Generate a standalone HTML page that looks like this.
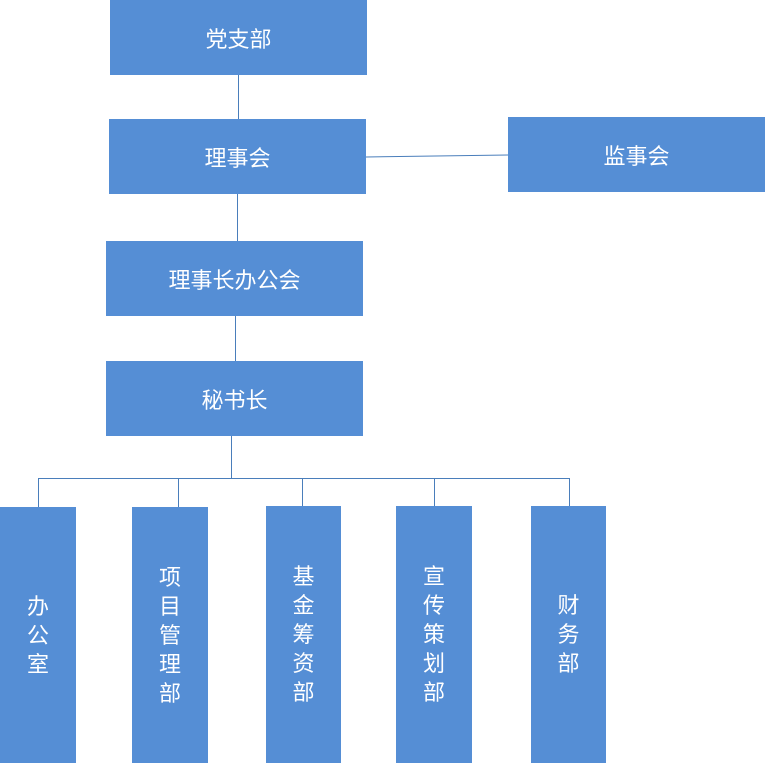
<!DOCTYPE html>
<html><head><meta charset="utf-8"><style>
body{margin:0;width:765px;height:763px;background:#fff;position:relative;overflow:hidden;font-family:"Liberation Sans","Noto Sans CJK SC",sans-serif}
.b{position:absolute;background:#558ed5;color:#fff;font-size:22px;display:flex;align-items:center;justify-content:center;text-align:center}
.v{line-height:29px;width:23px;word-wrap:break-word}
.l{position:absolute;background:#4a7ebb}
</style></head><body>
<div class="l" style="left:238px;top:75px;width:1px;height:44px"></div>
<div class="l" style="left:237px;top:194px;width:1px;height:47px"></div>
<div class="l" style="left:235px;top:316px;width:1px;height:45px"></div>
<div class="l" style="left:231px;top:436px;width:1px;height:42px"></div>
<svg style="position:absolute;left:0;top:0" width="765" height="763"><line x1="366" y1="157" x2="508" y2="155" stroke="#4a7ebb" stroke-width="1"/></svg>
<div class="l" style="left:38px;top:478px;width:532px;height:1px"></div>
<div class="l" style="left:38px;top:478px;width:1px;height:29px"></div>
<div class="l" style="left:178px;top:478px;width:1px;height:29px"></div>
<div class="l" style="left:302px;top:478px;width:1px;height:28px"></div>
<div class="l" style="left:434px;top:478px;width:1px;height:28px"></div>
<div class="l" style="left:569px;top:478px;width:1px;height:28px"></div>
<div class="b" style="left:110px;top:0;width:257px;height:75px">党支部</div>
<div class="b" style="left:109px;top:119px;width:257px;height:75px">理事会</div>
<div class="b" style="left:508px;top:117px;width:257px;height:75px">监事会</div>
<div class="b" style="left:106px;top:241px;width:257px;height:75px">理事长办公会</div>
<div class="b" style="left:106px;top:361px;width:257px;height:75px">秘书长</div>
<div class="b" style="left:0;top:507px;width:76px;height:256px"><div class="v">办公室</div></div>
<div class="b" style="left:132px;top:507px;width:76px;height:256px"><div class="v">项目管理部</div></div>
<div class="b" style="left:266px;top:506px;width:75px;height:257px"><div class="v">基金筹资部</div></div>
<div class="b" style="left:396px;top:506px;width:76px;height:257px"><div class="v">宣传策划部</div></div>
<div class="b" style="left:531px;top:506px;width:75px;height:257px"><div class="v">财务部</div></div>
</body></html>
